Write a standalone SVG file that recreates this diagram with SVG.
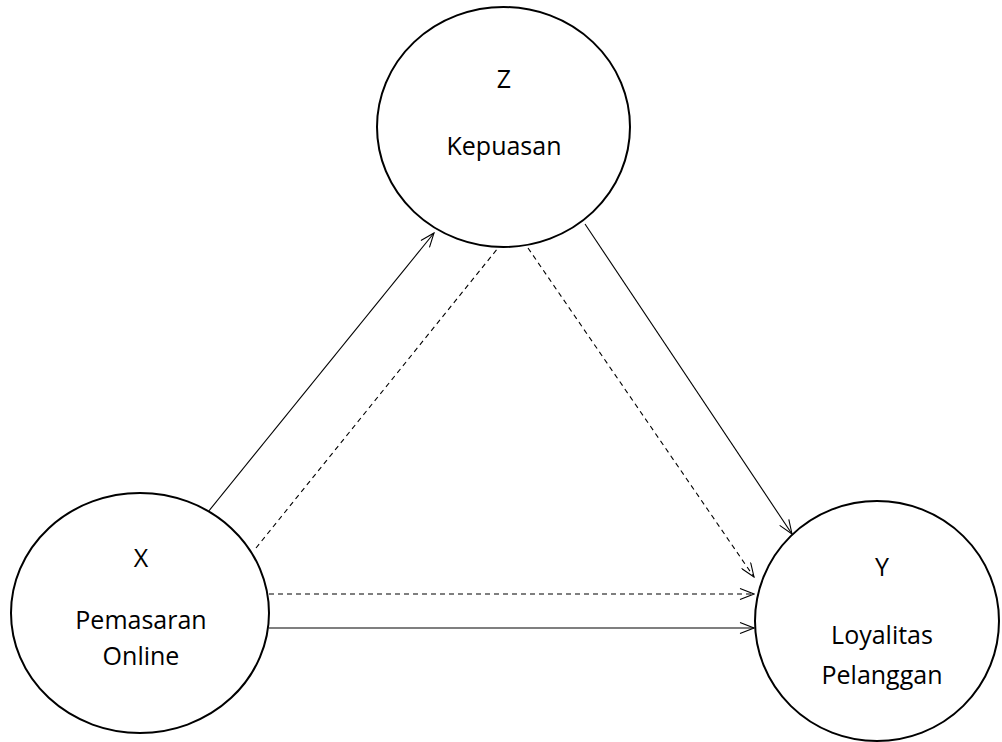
<svg xmlns="http://www.w3.org/2000/svg" width="1002" height="742" viewBox="0 0 1002 742">
<style>
.node{fill:#fff;stroke:#000;stroke-width:2}
.lbl{font-family:"Open Sans","Noto Sans",sans-serif;font-size:25px;fill:#000;text-anchor:middle}
.c{fill:none;stroke:#000;stroke-width:1.1}
.d{stroke-dasharray:5,4}
</style>
<defs>
<marker id="ah" viewBox="0 0 16 12" refX="15" refY="6" markerWidth="16" markerHeight="12" markerUnits="userSpaceOnUse" orient="auto">
<path d="M1,0.5 L15,6 L1,11.5" fill="none" stroke="#000" stroke-width="1.1"/>
</marker>
</defs>
<rect width="1002" height="742" fill="#fff"/>
<g id="connectors">
<line class="c" x1="208" y1="512" x2="434" y2="233" marker-end="url(#ah)"/>
<line class="c d" x1="256" y1="548" x2="498" y2="248"/>
<line class="c d" x1="528" y1="248" x2="754" y2="577" marker-end="url(#ah)"/>
<line class="c d" x1="269" y1="594" x2="754" y2="594" marker-end="url(#ah)"/>
<line class="c" x1="269" y1="628" x2="754" y2="628" marker-end="url(#ah)"/>
<line class="c" x1="585" y1="224" x2="792" y2="534" marker-end="url(#ah)"/>
</g>
<g id="nodeZ">
<ellipse class="node" cx="503.5" cy="127" rx="126.5" ry="120"/>
<text class="lbl" x="504" y="88">Z</text>
<text class="lbl" x="504" y="155">Kepuasan</text>
</g>
<g id="nodeX">
<ellipse class="node" cx="140" cy="613" rx="129" ry="120"/>
<text class="lbl" x="141" y="567">X</text>
<text class="lbl" x="141" y="629">Pemasaran</text>
<text class="lbl" x="141" y="665">Online</text>
</g>
<g id="nodeY">
<ellipse class="node" cx="877" cy="621" rx="122" ry="120"/>
<text class="lbl" x="882" y="576">Y</text>
<text class="lbl" x="882" y="644">Loyalitas</text>
<text class="lbl" x="882" y="684">Pelanggan</text>
</g>
</svg>
